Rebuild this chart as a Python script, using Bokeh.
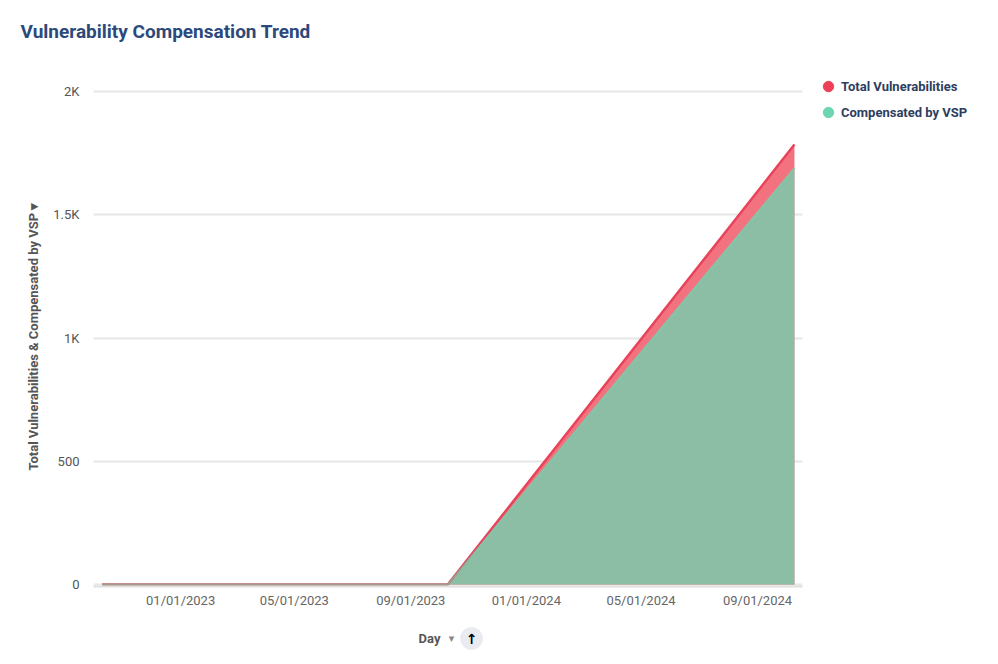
from datetime import datetime
import pandas as pd
from bokeh.plotting import figure
from bokeh.layouts import column
from bokeh.models import (Range1d, FixedTicker, DatetimeTickFormatter, Legend, LegendItem,
                          Title, ColumnDataSource)
from bokeh.core.properties import value
from bokeh.embed import file_html
from bokeh.resources import INLINE

# ---- data ----
dates = ["2022-10-10", "2023-10-10", "2024-10-10"]
total_vulnerabilities = [0, 0, 1785]
compensated_by_vsp = [0, 0, 1690]
x_tick_dates = ["2023-01-01", "2023-05-01", "2023-09-01", "2024-01-01", "2024-05-01", "2024-09-01"]
y_ticks = [0, 500, 1000, 1500, 2000]
y_tick_labels = ["0", "500", "1K", "1.5K", "2K"]
series_names = ["Total Vulnerabilities", "Compensated by VSP"]
y_axis_title = "Total Vulnerabilities & Compensated by VSP ▾"
x_axis_title = "Day"

src = ColumnDataSource(dict(x=pd.to_datetime(dates), total=total_vulnerabilities,
                            comp=compensated_by_vsp))

FONT = "Roboto"
FW = 709
p = figure(x_axis_type="datetime", frame_width=FW, frame_height=526,
           x_range=Range1d(datetime(2022, 10, 1), datetime(2024, 10, 18, 12)),
           y_range=Range1d(-8, 2126),
           output_backend="svg", toolbar_location=None,
           min_border_left=93, min_border_right=188, min_border_top=60, min_border_bottom=34,
           outline_line_color=None, title="Vulnerability Compensation Trend")

p.title.align = "left"
p.title.offset = -73
p.title.standoff = 35
p.title.text_font = FONT
p.title.text_font_size = "19px"
p.title.text_font_style = "bold"
p.title.text_color = "#2b4a7b"

p.varea(x="x", y1=0, y2="total", source=src, fill_color="#f2737f")
p.varea(x="x", y1=0, y2="comp", source=src, fill_color="#8bbea5")
p.line(x="x", y="total", source=src, line_color="#e8435a", line_width=2.5)
p.line(x="x", y="comp", source=src, line_color="#6dd8b0", line_width=2, line_alpha=0.6)

# legend markers (placed outside visible range)
r1 = p.scatter(x=[pd.to_datetime(dates[0])], y=[-1000], size=11, color="#ee4057")
r2 = p.scatter(x=[pd.to_datetime(dates[0])], y=[-1000], size=11, color="#6bd6b0")
legend = Legend(items=[LegendItem(label=series_names[0], renderers=[r1]),
                       LegendItem(label=series_names[1], renderers=[r2])],
                location="top_left", margin=13, padding=12, spacing=0,
                glyph_width=26, glyph_height=26, label_height=20, label_standoff=0,
                label_text_font=FONT, label_text_font_style="bold",
                label_text_font_size="13px", label_text_color="#2d3e5e",
                border_line_color=None, background_fill_alpha=0)
p.add_layout(legend, "right")

# axes
p.xaxis.ticker = FixedTicker(ticks=[pd.Timestamp(d).value / 1e6 for d in x_tick_dates])
p.xaxis.formatter = DatetimeTickFormatter(days="%m/%d/%Y", months="%m/%d/%Y", years="%m/%d/%Y")
p.xaxis.axis_line_color = "#e0e0e0"
p.xaxis.axis_line_width = 2
p.xaxis.major_tick_line_color = None
p.xaxis.minor_tick_line_color = None
p.xaxis.major_tick_out = 0
p.xaxis.major_label_standoff = 6
p.xaxis.major_label_text_font = FONT
p.xaxis.major_label_text_font_size = "13px"
p.xaxis.major_label_text_color = "#666666"

p.yaxis.ticker = FixedTicker(ticks=y_ticks)
p.yaxis.major_label_overrides = {t: l for t, l in zip(y_ticks, y_tick_labels)}
p.yaxis.axis_line_color = None
p.yaxis.major_tick_line_color = None
p.yaxis.minor_tick_line_color = None
p.yaxis.major_tick_out = 0
p.yaxis.major_label_standoff = 14
p.yaxis.major_label_text_font = FONT
p.yaxis.major_label_text_font_size = "13px"
p.yaxis.major_label_text_color = "#555555"

p.xgrid.grid_line_color = None
p.ygrid.grid_line_color = "#e6e6e6"
p.ygrid.grid_line_width = 2

# y-axis title as a side-panel title
ytitle = Title(text=y_axis_title, align="left", offset=116, standoff=20,
               text_font=FONT, text_font_size="13px", text_font_style="bold",
               text_color="#555555")
p.add_layout(ytitle, "left")

# footer with x-axis title and sort button (frame aligned with the chart frame)
footer = figure(frame_width=FW, frame_height=36, x_range=Range1d(0, FW), y_range=Range1d(0, 36),
                output_backend="svg", toolbar_location=None,
                min_border_left=0, min_border_right=0, min_border_top=0, min_border_bottom=0,
                x_axis_location=None, y_axis_location=None, outline_line_color=None)
footer.xgrid.grid_line_color = None
footer.ygrid.grid_line_color = None
footer.text(x=[336], y=[18], text=[x_axis_title], text_align="center", text_baseline="middle",
            text_font=value(FONT), text_font_size="13px", text_font_style="bold",
            text_color="#555555")
footer.text(x=[358], y=[18], text=["▾"], text_align="center", text_baseline="middle",
            text_font=value("DejaVu Sans"), text_font_size="11px", text_color="#888888")
footer.scatter(x=[378], y=[18], size=22, color="#e9ebf0")
footer.text(x=[378], y=[18], text=["↑"], text_align="center", text_baseline="middle",
            text_font=value("DejaVu Sans"), text_font_size="14px", text_font_style="bold",
            text_color="#000000")

open("out.html", "w").write(file_html(column(p, footer), INLINE))
